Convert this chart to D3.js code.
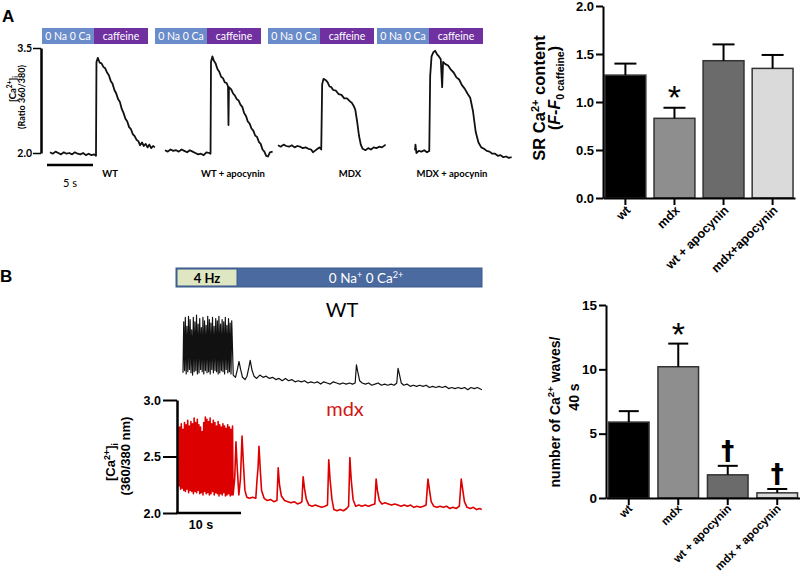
<!DOCTYPE html>
<html><head><meta charset="utf-8">
<script src="https://cdn.jsdelivr.net/npm/d3@7"></script>
<style>body{margin:0;background:#fff}svg{display:block}</style>
</head><body><svg id="c" width="800" height="578"></svg>
<script>
// ---------------- DATA ----------------
// Panel A caffeine traces: [time s, ratio 360/380]
const traceNamesA = ["WT", "WT + apocynin", "MDX", "MDX + apocynin"];
const protoLabelsA = ["0 Na 0 Ca", "caffeine"];
const traceWT = [[0,2.01],[0.3,1.99],[0.6,2.02],[0.9,2.00],[1.2,1.98],[1.5,2.01],[1.8,1.99],[2.1,2.00],[2.4,1.98],[2.7,2.01],[3.0,1.99],[3.3,1.98],[3.6,2.00],[3.9,1.97],[4.2,1.99],[4.5,1.97],[4.8,1.98],[5.0,1.96],
 [5.05,3.30],[5.2,3.36],[5.4,3.29],[5.6,3.28],[5.8,3.23],[6.0,3.21],[6.2,3.15],[6.4,3.11],[6.6,3.03],[6.8,2.99],[7.0,2.90],[7.2,2.85],[7.4,2.77],[7.6,2.73],[7.8,2.63],[8.0,2.57],[8.2,2.49],[8.4,2.45],[8.6,2.37],[8.8,2.34],[9.0,2.27],[9.2,2.24],[9.4,2.19],[9.6,2.17],[9.8,2.11],[10.0,2.15],[10.2,2.10],[10.4,2.13],[10.6,2.08],[10.8,2.12],[11.0,2.07],[11.2,2.10],[11.4,2.08]];
const traceWTapo = [[0,2.04],[0.3,2.02],[0.6,2.05],[0.9,2.03],[1.2,2.04],[1.5,2.02],[1.8,2.05],[2.1,2.03],[2.4,2.01],[2.7,2.04],[3.0,2.02],[3.3,2.00],[3.6,1.98],[3.9,1.99],[4.2,1.97],[4.5,2.01],[4.8,2.00],[4.95,1.99],
 [5.0,3.30],[5.15,3.38],[5.3,3.32],[5.5,3.28],[5.7,3.20],[5.9,3.16],[6.1,3.09],[6.3,3.07],[6.5,3.01],[6.7,3.00],[6.85,2.95],[6.9,2.40],[6.95,2.94],[7.2,2.91],[7.4,2.85],[7.6,2.82],[7.8,2.77],[8.0,2.75],[8.2,2.69],[8.4,2.66],[8.6,2.57],[8.8,2.53],[9.0,2.45],[9.2,2.42],[9.4,2.35],[9.6,2.32],[9.8,2.25],[10.0,2.23],[10.2,2.16],[10.4,2.13],[10.6,2.05],[10.8,2.02],[11.0,1.96],[11.2,1.95],[11.4,2.01],[11.7,2.02]];
const traceMDX = [[0,2.11],[0.3,2.09],[0.6,2.12],[0.9,2.10],[1.2,2.09],[1.5,2.11],[1.8,2.08],[2.1,2.10],[2.4,2.09],[2.7,2.07],[3.0,2.08],[3.3,2.06],[3.6,2.05],[3.8,2.01],[4.0,2.03],[4.3,2.06],[4.5,2.08],[4.7,2.05],
 [4.8,2.98],[4.95,3.06],[5.2,3.04],[5.4,3.01],[5.6,2.95],[5.8,2.94],[6.0,2.90],[6.3,2.89],[6.6,2.84],[6.9,2.83],[7.2,2.78],[7.5,2.78],[7.8,2.74],[8.0,2.72],[8.2,2.68],[8.4,2.62],[8.6,2.45],[8.8,2.25],[9.0,2.12],[9.2,2.06],[9.5,2.04],[9.8,2.07],[10.1,2.05],[10.4,2.08],[10.7,2.07],[11.0,2.09],[11.3,2.08],[11.7,2.12]];
const traceMDXapo = [[0,2.04],[0.05,2.12],[0.15,2.00],[0.4,2.03],[0.7,2.02],[1.0,2.04],[1.3,2.01],[1.55,2.03],
 [1.65,3.10],[1.8,3.38],[2.0,3.44],[2.2,3.46],[2.4,3.41],[2.6,3.38],[2.8,3.34],[2.95,2.94],[3.05,3.30],[3.3,3.27],[3.6,3.25],[3.9,3.19],[4.2,3.15],[4.5,3.08],[4.8,3.05],[5.1,2.97],[5.4,2.92],[5.7,2.85],[6.0,2.79],[6.3,2.60],[6.6,2.30],[6.9,2.15],[7.2,2.08],[7.5,2.06],[7.8,2.03],[8.1,2.02],[8.4,1.99],[8.7,1.99],[9.0,1.96],[9.3,1.97],[9.6,1.94],[9.9,1.95],[10.2,1.93],[10.5,1.94]];

// Panel A bar chart
const catsA = ["wt", "mdx", "wt + apocynin", "mdx+apocynin"];
const meansA = [1.28, 0.83, 1.43, 1.35];
const semA = [0.12, 0.11, 0.17, 0.14];
const ticksA = [0, 0.5, 1.0, 1.5, 2.0];

// Panel B pacing-then-wash traces
const pacingHz = 4;
const wtPacePeaks = [2.62,2.66,2.58,2.67,2.64,2.55,2.66,2.62,2.68,2.60,2.65,2.57,2.66,2.63,2.59,2.67,2.64,2.61,2.66,2.58,2.65,2.63,2.67,2.60,2.64,2.62,2.66,2.59,2.65,2.61,2.63];
const wtPaceTroughs = [2.17,2.19,2.16,2.18,2.20,2.17,2.15,2.18,2.19,2.16,2.17,2.20,2.18,2.16,2.19,2.17,2.18,2.16,2.20,2.17,2.19,2.18,2.16,2.17,2.19,2.18,2.16,2.20,2.17,2.18,2.16];
const wtAfter = [[7.85,2.15],[8.2,2.13],[8.5,2.20],[8.75,2.27],[9.0,2.20],[9.3,2.13],[9.7,2.11],[10.0,2.14],[10.3,2.22],[10.5,2.28],[10.8,2.19],[11.1,2.14],[11.5,2.12],[12,2.15],[12.5,2.13],[13,2.14],[13.5,2.12],[14,2.13],[14.5,2.11],[15,2.12],[15.5,2.10],[16,2.12],[16.5,2.10],[17,2.11],[17.5,2.09],[18,2.10],[18.5,2.09],[19,2.10],[19.5,2.08],[20,2.09],[20.5,2.08],[21,2.09],[21.5,2.07],[22,2.09],[22.5,2.08],[23,2.07],[23.5,2.09],[24,2.08],[24.5,2.07],[25,2.08],[25.5,2.07],[26,2.08],[26.5,2.07],[26.9,2.08],[27.1,2.24],[27.3,2.18],[27.6,2.10],[28,2.08],[28.5,2.07],[29,2.08],[29.5,2.06],[30,2.07],[30.5,2.08],[31,2.06],[31.5,2.07],[32,2.06],[32.5,2.07],[33,2.06],[33.4,2.08],[33.6,2.21],[33.8,2.16],[34.1,2.08],[34.5,2.06],[35,2.07],[35.5,2.05],[36,2.06],[36.5,2.05],[37,2.06],[37.5,2.05],[38,2.06],[38.5,2.04],[39,2.05],[39.5,2.04],[40,2.05],[40.5,2.04],[41,2.05],[41.5,2.03],[42,2.04],[42.5,2.03],[43,2.04],[43.5,2.03],[44,2.04],[44.5,2.02],[45,2.04],[45.5,2.03],[46,2.04],[46.7,2.02]];
const mdxPacePeaks = [2.76,2.79,2.74,2.80,2.78,2.82,2.77,2.81,2.79,2.84,2.80,2.83,2.78,2.76,2.72,2.80,2.85,2.83,2.81,2.84,2.79,2.82,2.80,2.77,2.81,2.78,2.76,2.79,2.77,2.75,2.78,2.76,2.74,2.77];
const mdxPaceTroughs = [2.24,2.21,2.22,2.20,2.19,2.21,2.18,2.20,2.19,2.17,2.19,2.18,2.20,2.17,2.18,2.16,2.19,2.17,2.18,2.16,2.17,2.19,2.16,2.18,2.17,2.15,2.17,2.16,2.18,2.15,2.16,2.17,2.15,2.16];
const mdxAfter = [[8.45,2.16],[8.7,2.30],[8.9,2.63],[9.1,2.40],[9.35,2.16],[9.6,2.30],[9.85,2.68],[10.05,2.45],[10.3,2.20],[10.6,2.14],[11.0,2.13],[11.5,2.14],[12.0,2.13],[12.2,2.30],[12.35,2.40],[12.5,2.59],[12.7,2.38],[12.9,2.20],[13.3,2.13],[13.8,2.11],[14.3,2.12],[14.8,2.10],[15.3,2.11],[15.5,2.40],[15.7,2.25],[16.0,2.15],[16.5,2.11],[17,2.10],[17.5,2.09],[18,2.10],[18.5,2.08],[19.0,2.09],[19.2,2.10],[19.4,2.32],[19.6,2.22],[19.9,2.12],[20.3,2.07],[20.8,2.06],[21.3,2.07],[21.8,2.06],[22.3,2.05],[22.8,2.06],[23.2,2.07],[23.4,2.47],[23.6,2.30],[23.9,2.12],[24.2,2.03],[24.7,2.02],[25.2,2.03],[25.7,2.02],[26.2,2.04],[26.5,2.06],[26.7,2.49],[26.9,2.30],[27.2,2.12],[27.6,2.06],[28.1,2.07],[28.6,2.06],[29.1,2.07],[29.6,2.06],[30.1,2.07],[30.6,2.08],[30.8,2.30],[31.0,2.20],[31.3,2.11],[31.7,2.08],[32.2,2.09],[32.7,2.08],[33.2,2.07],[33.7,2.08],[34.2,2.07],[34.7,2.06],[35.2,2.07],[35.7,2.06],[36.2,2.07],[36.7,2.05],[37.2,2.06],[37.7,2.05],[38.2,2.06],[38.6,2.07],[38.9,2.30],[39.1,2.22],[39.4,2.10],[39.8,2.06],[40.3,2.05],[40.8,2.06],[41.3,2.05],[41.8,2.06],[42.3,2.04],[42.8,2.05],[43.3,2.04],[43.8,2.06],[44.1,2.30],[44.3,2.22],[44.6,2.10],[45.0,2.05],[45.5,2.04],[46.0,2.05],[46.5,2.03],[47.0,2.04],[47.3,2.03]];
const ticksBtrace = [2.0, 2.5, 3.0];

// Panel B bar chart
const catsB = ["wt", "mdx", "wt + apocynin", "mdx + apocynin"];
const meansB = [5.9, 10.2, 1.8, 0.4];
const semB = [0.85, 1.8, 0.7, 0.3];
const ticksB = [0, 5, 10, 15];
const marksB = ["", "*", "\u2020", "\u2020"];
const marksA = ["", "*", "", ""];
const barColors = ["#000000", "#8e8e8e", "#6b6b6b", "#dadada"];

// ---------------- DRAW ----------------
const svg = d3.select("#c");
const ARIAL = "'Liberation Sans', Arial, sans-serif";
const CAL = "Lato, 'Open Sans', sans-serif";

// Panel letters
svg.append("text").attr("x", 2).attr("y", 22).text("A").attr("font-family", ARIAL).attr("font-weight", "bold").attr("font-size", 17);
svg.append("text").attr("x", 0).attr("y", 282).text("B").attr("font-family", ARIAL).attr("font-weight", "bold").attr("font-size", 17);

// ===== Panel A traces =====
const xA = d3.scaleLinear().domain([0, 5]).range([0, 46]);
const yA = d3.scaleLinear().domain([2.0, 3.5]).range([153, 48]);
const traceStartA = [50, 165, 278, 415];
const protoXA = [42, 155, 268, 377];
const protoSplit = [52, 54];
const labelXA = [110, 233, 350, 452];
const tracesA = [traceWT, traceWTapo, traceMDX, traceMDXapo];
const lineA = d3.line().x(d => xA(d[0])).y(d => yA(d[1]));

tracesA.forEach((tr, i) => {
  const g = svg.append("g").attr("transform", `translate(${traceStartA[i]},0)`);
  g.append("path").attr("d", lineA(tr)).attr("fill", "none").attr("stroke", "#111").attr("stroke-width", 1.8).attr("stroke-linejoin", "round");
  // protocol bar
  const pg = svg.append("g").attr("transform", `translate(${protoXA[i]},28)`);
  pg.append("rect").attr("x", 0).attr("y", 0).attr("width", protoSplit[0]).attr("height", 16).attr("fill", "#6a8cca");
  pg.append("rect").attr("x", protoSplit[0]).attr("y", 0).attr("width", protoSplit[1]).attr("height", 16).attr("fill", "#7030a0");
  pg.append("text").attr("x", protoSplit[0] / 2).attr("y", 12).attr("text-anchor", "middle").text(protoLabelsA[0])
    .attr("fill", "#fff").attr("font-family", CAL).attr("font-size", 10.5);
  pg.append("text").attr("x", protoSplit[0] + protoSplit[1] / 2).attr("y", 12).attr("text-anchor", "middle").text(protoLabelsA[1])
    .attr("fill", "#fff").attr("font-family", CAL).attr("font-size", 10.5);
  svg.append("text").attr("x", labelXA[i]).attr("y", 177).attr("text-anchor", "middle").text(traceNamesA[i])
    .attr("font-family", CAL).attr("font-weight", "bold").attr("font-size", 9.5);
});

// A y axis
const axA = svg.append("g").attr("transform", "translate(41,0)")
  .call(d3.axisLeft(yA).tickValues([2.0, 3.5]).tickFormat(d3.format(".1f")).tickSize(8).tickSizeOuter(0));
axA.select(".domain").attr("stroke-width", 2.5);
axA.selectAll(".tick line").attr("stroke-width", 1.5);
axA.selectAll(".tick text").attr("font-family", CAL).attr("font-weight", "bold").attr("font-size", 10.5).attr("x", -9);
// A y label
const ylA = svg.append("text").attr("transform", "translate(16,89) rotate(-90)").attr("text-anchor", "middle")
  .attr("font-family", CAL).attr("font-weight", "bold").attr("font-size", 9.5);
ylA.append("tspan").text("[Ca");
ylA.append("tspan").text("2+").attr("font-size", 6.5).attr("dy", -4);
ylA.append("tspan").text("]").attr("dy", 4);
ylA.append("tspan").text("i").attr("font-size", 6.5).attr("dy", 2);
svg.append("text").attr("transform", "translate(25,97) rotate(-90)").attr("text-anchor", "middle")
  .attr("font-family", CAL).attr("font-weight", "bold").attr("font-size", 9).text("(Ratio 360/380)");
// 5 s scale bar
svg.append("line").attr("x1", 47).attr("x2", 47 + xA(5)).attr("y1", 165).attr("y2", 165).attr("stroke", "#000").attr("stroke-width", 2.5);
svg.append("text").attr("x", 70).attr("y", 187).attr("text-anchor", "middle").text("5 s").attr("font-family", CAL).attr("font-size", 11);

// ===== Bar chart helper =====
function barChart(cfg) {
  const x = d3.scaleBand().domain(cfg.cats).range(cfg.xr).paddingInner(cfg.pi).paddingOuter(cfg.po);
  const y = d3.scaleLinear().domain(cfg.yd).range(cfg.yr);
  const g = svg.append("g");
  g.selectAll("rect.bar").data(cfg.cats).join("rect").attr("class", "bar")
    .attr("x", d => x(d)).attr("width", x.bandwidth())
    .attr("y", (d, i) => y(cfg.means[i])).attr("height", (d, i) => y(0) - y(cfg.means[i]))
    .attr("fill", (d, i) => barColors[i]).attr("stroke", "#333").attr("stroke-width", 1.5);
  // error bars (upper)
  cfg.cats.forEach((c, i) => {
    const cx = x(c) + x.bandwidth() / 2;
    const top = y(cfg.means[i] + cfg.sem[i]);
    g.append("line").attr("x1", cx).attr("x2", cx).attr("y1", y(cfg.means[i])).attr("y2", top).attr("stroke", "#000").attr("stroke-width", 2);
    g.append("line").attr("x1", cx - cfg.cap).attr("x2", cx + cfg.cap).attr("y1", top).attr("y2", top).attr("stroke", "#000").attr("stroke-width", 2);
    if (cfg.marks[i] === "*") {
      g.append("text").attr("x", cx).attr("y", top - cfg.starGap).attr("text-anchor", "middle").text("*")
        .attr("font-family", ARIAL).attr("font-size", 34);
    } else if (cfg.marks[i]) {
      g.append("text").attr("x", cx).attr("y", top - cfg.dagGap).attr("text-anchor", "middle").text(cfg.marks[i])
        .attr("font-family", "'DejaVu Sans', sans-serif").attr("font-weight", "bold").attr("font-size", 26);
    }
  });
  const ay = g.append("g").attr("transform", `translate(${cfg.xr[0]},0)`)
    .call(d3.axisLeft(y).tickValues(cfg.ticks).tickFormat(cfg.fmt).tickSize(7).tickSizeOuter(0));
  ay.select(".domain").attr("stroke-width", 2);
  ay.selectAll(".tick line").attr("stroke-width", 2);
  ay.selectAll(".tick text").attr("font-family", ARIAL).attr("font-weight", "bold").attr("font-size", cfg.tfs).attr("x", -9);
  const ax = g.append("g").attr("transform", `translate(0,${y(0)})`)
    .call(d3.axisBottom(x).tickSize(7).tickSizeOuter(0));
  ax.select(".domain").attr("stroke-width", 2);
  ax.selectAll(".tick line").attr("stroke-width", 2);
  ax.selectAll(".tick text").attr("font-family", ARIAL).attr("font-weight", "bold").attr("font-size", cfg.lfs)
    .attr("text-anchor", "end").attr("transform", "rotate(-45)").attr("x", -5).attr("y", cfg.ly).attr("dy", "0.35em");
  return { x, y };
}

barChart({ cats: catsA, means: meansA, sem: semA, xr: [603, 795], yd: [0, 2.0], yr: [198, 6], pi: 0.167, po: 0.04,
  ticks: ticksA, fmt: d3.format(".1f"), cap: 11, marks: marksA, starGap: -1, dagGap: 6, tfs: 13, lfs: 12.5, ly: 9 });
// A bar y label
const yl1 = svg.append("text").attr("transform", "translate(545,98) rotate(-90)").attr("text-anchor", "middle")
  .attr("font-family", ARIAL).attr("font-weight", "bold").attr("font-size", 16.5);
yl1.append("tspan").text("SR  Ca");
yl1.append("tspan").text("2+").attr("font-size", 11).attr("dy", -6);
yl1.append("tspan").text(" content").attr("dy", 6);
const yl2 = svg.append("text").attr("transform", "translate(560,88) rotate(-90)").attr("text-anchor", "middle")
  .attr("font-family", ARIAL).attr("font-weight", "bold").attr("font-size", 16);
yl2.append("tspan").text("(");
yl2.append("tspan").text("F").attr("font-style", "italic");
yl2.append("tspan").text("-");
yl2.append("tspan").text("F").attr("font-style", "italic");
yl2.append("tspan").text("0 caffeine").attr("font-size", 10.5).attr("dy", 4);
yl2.append("tspan").text(")").attr("dy", -4);

// ===== Panel B =====
const xB = d3.scaleLinear().domain([0, 10]).range([0, 64]);
const yB = d3.scaleLinear().domain([2.0, 3.0]).range([513, 400]);
const yWT = d3.scaleLinear().domain([2.0, 3.0]).range([392, 279]);
const period = 1 / pacingHz;

// protocol header
svg.append("rect").attr("x", 176).attr("y", 268).attr("width", 306).attr("height", 19).attr("fill", "#4a6aa0").attr("stroke", "#3a5a8c").attr("stroke-width", 1);
svg.append("rect").attr("x", 177).attr("y", 269).attr("width", 60).attr("height", 17).attr("fill", "#dfe6c2").attr("stroke", "#3a5a8c").attr("stroke-width", 1);
svg.append("text").attr("x", 207).attr("y", 283).attr("text-anchor", "middle").text("4 Hz").attr("font-family", CAL).attr("font-weight", "bold").attr("font-size", 13);
const hdr = svg.append("text").attr("x", 366).attr("y", 283).attr("text-anchor", "middle").attr("fill", "#fff").attr("font-family", CAL).attr("font-size", 13.5);
hdr.append("tspan").text("0 Na");
hdr.append("tspan").text("+").attr("font-size", 9).attr("dy", -5);
hdr.append("tspan").text("  0 Ca").attr("dy", 5);
hdr.append("tspan").text("2+").attr("font-size", 9).attr("dy", -5);

// build traces from pacing data + post-pacing data
function pacePoints(peaks, troughs) {
  const pts = [];
  peaks.forEach((p, i) => {
    pts.push([i * period, troughs[i]]);
    pts.push([i * period + period * 0.45, p]);
  });
  return pts;
}
const wtPts = pacePoints(wtPacePeaks, wtPaceTroughs).concat(wtAfter);
const mdxPts = [[0, mdxPacePeaks[0]]].concat(pacePoints(mdxPacePeaks, mdxPaceTroughs), mdxAfter);

svg.append("path").attr("transform", "translate(183,0)")
  .attr("d", d3.line().x(d => xB(d[0])).y(d => yWT(d[1]))(wtPts))
  .attr("fill", "none").attr("stroke", "#111").attr("stroke-width", 1.2).attr("stroke-linejoin", "round");
svg.append("path").attr("transform", "translate(179,0)")
  .attr("d", d3.line().x(d => xB(d[0])).y(d => yB(d[1]))(mdxPts))
  .attr("fill", "none").attr("stroke", "#dd0000").attr("stroke-width", 1.6).attr("stroke-linejoin", "round");

svg.append("text").attr("x", 342).attr("y", 317).attr("text-anchor", "middle").text("WT").attr("font-family", CAL).attr("font-size", 20);
svg.append("text").attr("x", 345).attr("y", 416).attr("text-anchor", "middle").text("mdx").attr("fill", "#d01818").attr("font-family", CAL).attr("font-size", 20);

// B trace axis
const axB = svg.append("g").attr("transform", "translate(177,0)")
  .call(d3.axisLeft(yB).tickValues(ticksBtrace).tickFormat(d3.format(".1f")).tickSize(14).tickSizeOuter(0));
axB.select(".domain").attr("stroke-width", 2.5);
axB.selectAll(".tick line").attr("stroke-width", 2);
axB.selectAll(".tick text").attr("font-family", ARIAL).attr("font-weight", "bold").attr("font-size", 12.5).attr("x", -16);
svg.append("line").attr("x1", 176).attr("x2", 177 + xB(10)).attr("y1", 513).attr("y2", 513).attr("stroke", "#000").attr("stroke-width", 2.5);
svg.append("text").attr("x", 201).attr("y", 529).attr("text-anchor", "middle").text("10 s").attr("font-family", ARIAL).attr("font-weight", "bold").attr("font-size", 12.5);
const ylB1 = svg.append("text").attr("transform", "translate(115,462) rotate(-90)").attr("text-anchor", "middle")
  .attr("font-family", ARIAL).attr("font-weight", "bold").attr("font-size", 13);
ylB1.append("tspan").text("[Ca");
ylB1.append("tspan").text("2+").attr("font-size", 9).attr("dy", -5);
ylB1.append("tspan").text("]").attr("dy", 5);
ylB1.append("tspan").text("i").attr("font-size", 9).attr("dy", 3);
svg.append("text").attr("transform", "translate(130,456) rotate(-90)").attr("text-anchor", "middle")
  .attr("font-family", ARIAL).attr("font-weight", "bold").attr("font-size", 13).text("(360/380 nm)");

barChart({ cats: catsB, means: meansB, sem: semB, xr: [606, 800], yd: [0, 15], yr: [498, 305], pi: 0.18, po: 0.05,
  ticks: ticksB, fmt: d3.format("d"), cap: 10, marks: marksB, starGap: -2, dagGap: 6, tfs: 13.5, lfs: 11.5, ly: 7 });
const ylB3 = svg.append("text").attr("transform", "translate(560,412) rotate(-90)").attr("text-anchor", "middle")
  .attr("font-family", ARIAL).attr("font-weight", "bold").attr("font-size", 14);
ylB3.append("tspan").text("number of Ca");
ylB3.append("tspan").text("2+").attr("font-size", 9.5).attr("dy", -6);
ylB3.append("tspan").text(" waves/").attr("dy", 6);
svg.append("text").attr("transform", "translate(579,397) rotate(-90)").attr("text-anchor", "middle")
  .attr("font-family", ARIAL).attr("font-weight", "bold").attr("font-size", 14).text("40 s");
</script></body></html>
